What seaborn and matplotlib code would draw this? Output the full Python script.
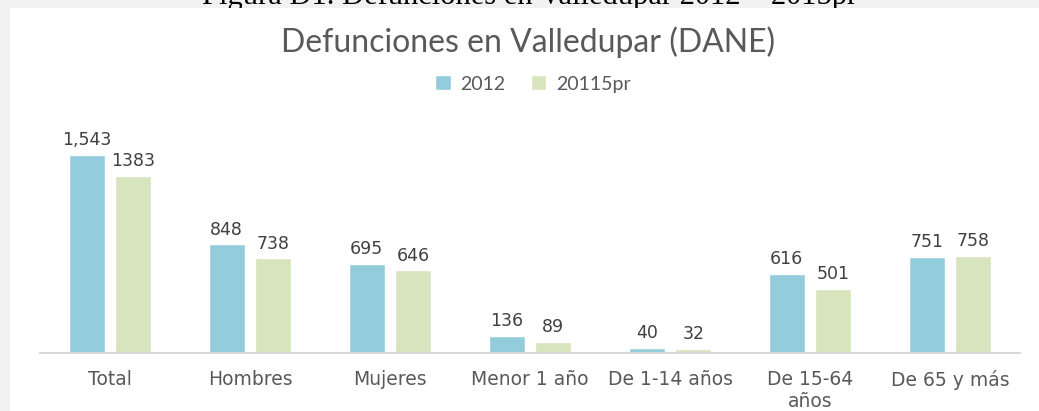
"""
Defunciones en Valledupar (DANE): comparación 2012 frente a 2015pr por grupo.
"""
import matplotlib
matplotlib.use("Agg")

import pandas as pd
import matplotlib.pyplot as plt
import matplotlib.patches as mpatches
import seaborn as sns

# Datos
categorias = ["Total", "Hombres", "Mujeres", "Menor 1 año", "De 1-14 años",
              "De 15-64\naños", "De 65 y más"]
series = ["2012", "20115pr"]
valores_2012 = [1543, 848, 695, 136, 40, 616, 751]
valores_2015 = [1383, 738, 646, 89, 32, 501, 758]
etiquetas_2012 = ["1,543", "848", "695", "136", "40", "616", "751"]
etiquetas_2015 = ["1383", "738", "646", "89", "32", "501", "758"]

AZUL = "#93CDDD"
VERDE = "#D7E4BD"
GRIS_TXT = "#595959"

df = pd.DataFrame({
    "categoria": categorias * 2,
    "valor": valores_2012 + valores_2015,
    "serie": [series[0]] * len(categorias) + [series[1]] * len(categorias),
})

sns.set_style("white")
plt.rcParams["font.family"] = ["DejaVu Sans"]

W, H = 1039, 411
fig = plt.figure(figsize=(W / 100, H / 100), dpi=100, facecolor="#F2F2F2")

# título de la figura del documento, recortado arriba
fig.text(530 / W, 1 - 4 / H, "Figura D1. Defunciones en Valledupar 2012 – 2015pr",
         ha="center", va="baseline", fontsize=22, family="Liberation Serif",
         color="black", zorder=-3)
# área blanca del gráfico
fig.add_artist(mpatches.Rectangle((10 / W, 0), 1 - 10 / W, 1 - 8 / H,
                                  transform=fig.transFigure, facecolor="white",
                                  edgecolor="none", zorder=-2))

ax = fig.add_axes([40 / W, 58 / H, 980 / W, 233 / H])
ax.set_facecolor("none")

sns.barplot(data=df, x="categoria", y="valor", hue="serie", order=categorias,
            hue_order=series, palette=[AZUL, VERDE], width=0.664, gap=0.215,
            saturation=1, ax=ax)

for cont, etq in zip(ax.containers, [etiquetas_2012, etiquetas_2015]):
    ax.bar_label(cont, labels=etq, padding=4, fontsize=12.5, color="#404040")

ax.set_xlim(-0.5, len(categorias) - 0.5)
ax.set_ylim(0, 1543 * 233 / 198)
ax.set_xlabel("")
ax.set_ylabel("")
ax.set_yticks([])
ax.tick_params(axis="x", length=0, pad=12, labelsize=13.5, labelcolor=GRIS_TXT)
for lado in ["top", "left", "right"]:
    ax.spines[lado].set_visible(False)
ax.spines["bottom"].set_color("#D9D9D9")
ax.spines["bottom"].set_linewidth(1.5)

fig.text(528 / W, 1 - 42 / H, "Defunciones en Valledupar (DANE)", ha="center",
         va="center", fontsize=23, family="Lato", color=GRIS_TXT)

sns.move_legend(ax, "center", bbox_to_anchor=(533 / W, 1 - 84 / H),
                bbox_transform=fig.transFigure, ncol=2, frameon=False, title=None,
                prop={"family": "Lato", "size": 14}, labelcolor=GRIS_TXT,
                handlelength=0.8, handleheight=0.8, handletextpad=0.5,
                columnspacing=1.3)

fig.savefig("out.png", dpi=100, facecolor=fig.get_facecolor())
